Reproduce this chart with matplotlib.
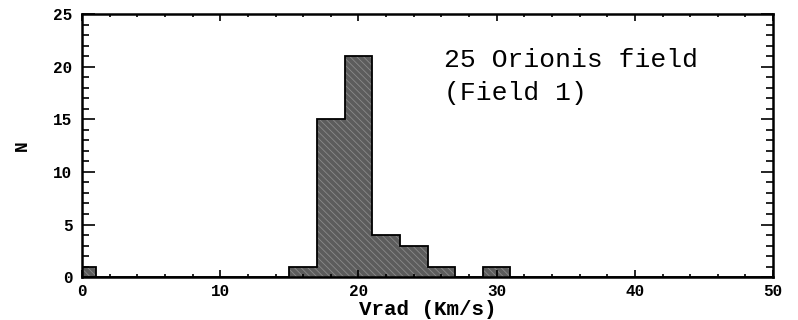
import matplotlib.pyplot as plt
import numpy as np
from matplotlib.ticker import MultipleLocator

# Histogramm-Daten: linke Bin-Kante (Breite 2 km/s) und Anzahl
bin_left = [-1, 15, 17, 19, 21, 23, 25, 29]
counts = [1, 1, 15, 21, 4, 3, 1, 1]
bin_width = 2

# volle Bin-Liste fuer Stufen-Darstellung
edges = np.arange(-1, 52, bin_width)
full_counts = np.zeros(len(edges) - 1)
for left, n in zip(bin_left, counts):
    full_counts[int((left - edges[0]) // bin_width)] = n

plt.rcParams['hatch.linewidth'] = 0.6
mono = 'Liberation Mono'

fig = plt.figure(figsize=(7.98, 3.2), dpi=100)
ax = fig.add_axes([0.1028, 0.134, 0.866, 0.822])

# Fuellung mit Schraffur, danach schwarzer Umriss
ax.stairs(full_counts, edges, fill=True, color='#5c5c5c',
          edgecolor='#8a8a8a', hatch='\\\\\\\\\\', linewidth=0)
ax.stairs(full_counts, edges, color='black', linewidth=1.3)

ax.set_xlim(0, 50)
ax.set_ylim(0, 25)

ax.xaxis.set_major_locator(MultipleLocator(10))
ax.xaxis.set_minor_locator(MultipleLocator(2))
ax.yaxis.set_major_locator(MultipleLocator(5))
ax.yaxis.set_minor_locator(MultipleLocator(1))

ax.tick_params(axis='both', which='both', direction='in', top=True, right=True,
               width=1.2, colors='black')
ax.tick_params(axis='x', which='major', length=5, pad=5)
ax.tick_params(axis='x', which='minor', length=2.5)
ax.tick_params(axis='y', which='major', length=9, pad=7)
ax.tick_params(axis='y', which='minor', length=5)

for lbl in ax.get_xticklabels() + ax.get_yticklabels():
    lbl.set_fontfamily(mono)
    lbl.set_fontweight('bold')
    lbl.set_fontsize(11.5)

for sp in ax.spines.values():
    sp.set_linewidth(1.8)
    sp.set_zorder(3)

ax.set_xlabel("Vrad (Km/s)", fontfamily=mono, fontweight='bold', fontsize=15,
              labelpad=1)
ax.set_ylabel("N", fontfamily=mono, fontweight='bold', fontsize=13, labelpad=16)

ax.text(26.2, 20.6, "25 Orionis field", fontfamily=mono, fontsize=19,
        va='center', ha='left')
ax.text(26.2, 17.5, "(Field 1)", fontfamily=mono, fontsize=19,
        va='center', ha='left')

fig.savefig("out.png", dpi=100)
